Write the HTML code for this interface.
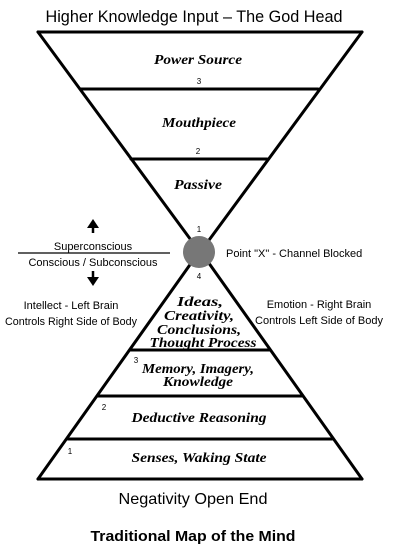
<!DOCTYPE html>
<html><head><meta charset="utf-8"><style>
html,body{margin:0;padding:0;background:#fff;width:405px;height:555px;overflow:hidden}
</style></head><body>
<svg width="405" height="555" viewBox="0 0 405 555" xmlns="http://www.w3.org/2000/svg">
<g stroke="#000" stroke-width="3" fill="none" stroke-linecap="round">
<polyline points="38,32 362,32"/>
<line x1="38" y1="32" x2="199" y2="251"/>
<line x1="362" y1="32" x2="201" y2="251"/>
<line x1="81" y1="89" x2="318" y2="89"/>
<line x1="131" y1="159" x2="267" y2="159"/>
<line x1="38" y1="479" x2="199" y2="252"/>
<line x1="362" y1="479" x2="201" y2="252"/>
<line x1="38" y1="479" x2="362" y2="479"/>
<line x1="130" y1="350" x2="270" y2="350"/>
<line x1="98" y1="396" x2="302" y2="396"/>
<line x1="68" y1="439" x2="332" y2="439"/>
</g>
<line x1="18" y1="253" x2="170" y2="253" stroke="#000" stroke-width="1.2"/>
<circle cx="199" cy="252" r="16" fill="#777"/>
<line x1="93" y1="233" x2="93" y2="226" stroke="#000" stroke-width="2.5"/>
<polygon points="87,228 99,228 93,219" fill="#000"/>
<line x1="93" y1="271" x2="93" y2="278" stroke="#000" stroke-width="2.5"/>
<polygon points="87,277 99,277 93,286" fill="#000"/>
<g font-family="Liberation Sans, sans-serif" fill="#000" text-anchor="middle">
<text x="194" y="22" font-size="16.5" textLength="297" lengthAdjust="spacingAndGlyphs">Higher Knowledge Input – The God Head</text>
<text x="199" y="84" font-size="8">3</text>
<text x="198" y="154" font-size="8">2</text>
<text x="199" y="232" font-size="8">1</text>
<text x="199" y="279" font-size="8">4</text>
<text x="136" y="363" font-size="8">3</text>
<text x="104" y="410" font-size="8">2</text>
<text x="70" y="454" font-size="8">1</text>
<text x="93" y="250" font-size="11">Superconscious</text>
<text x="93" y="266" font-size="11">Conscious / Subconscious</text>
<text x="71" y="309" font-size="11">Intellect - Left Brain</text>
<text x="71" y="325" font-size="11" textLength="132" lengthAdjust="spacingAndGlyphs">Controls Right Side of Body</text>
<text x="319" y="308" font-size="11">Emotion - Right Brain</text>
<text x="319" y="324" font-size="11" textLength="128" lengthAdjust="spacingAndGlyphs">Controls Left Side of Body</text>
<text x="226" y="257" font-size="11" text-anchor="start">Point "X" - Channel Blocked</text>
<text x="193" y="504" font-size="16" textLength="149" lengthAdjust="spacingAndGlyphs">Negativity Open End</text>
<text x="193" y="541" font-size="15" font-weight="bold" textLength="205" lengthAdjust="spacingAndGlyphs">Traditional Map of the Mind</text>
</g>
<g font-family="Liberation Serif, serif" font-style="italic" font-weight="bold" fill="#000" text-anchor="middle" font-size="14">
<text x="198" y="64" textLength="88" lengthAdjust="spacingAndGlyphs">Power Source</text>
<text x="199" y="127" textLength="74" lengthAdjust="spacingAndGlyphs">Mouthpiece</text>
<text x="198" y="189" textLength="48" lengthAdjust="spacingAndGlyphs">Passive</text>
<text x="200" y="306" textLength="46" lengthAdjust="spacingAndGlyphs">Ideas,</text>
<text x="199" y="320" textLength="70" lengthAdjust="spacingAndGlyphs">Creativity,</text>
<text x="199" y="334" textLength="84" lengthAdjust="spacingAndGlyphs">Conclusions,</text>
<text x="203" y="347" textLength="107" lengthAdjust="spacingAndGlyphs">Thought Process</text>
<text x="198" y="373" textLength="112" lengthAdjust="spacingAndGlyphs">Memory, Imagery,</text>
<text x="198" y="386" textLength="70" lengthAdjust="spacingAndGlyphs">Knowledge</text>
<text x="199" y="422" textLength="135" lengthAdjust="spacingAndGlyphs">Deductive Reasoning</text>
<text x="199" y="462" textLength="135" lengthAdjust="spacingAndGlyphs">Senses, Waking State</text>
</g>
</svg>
</body></html>
